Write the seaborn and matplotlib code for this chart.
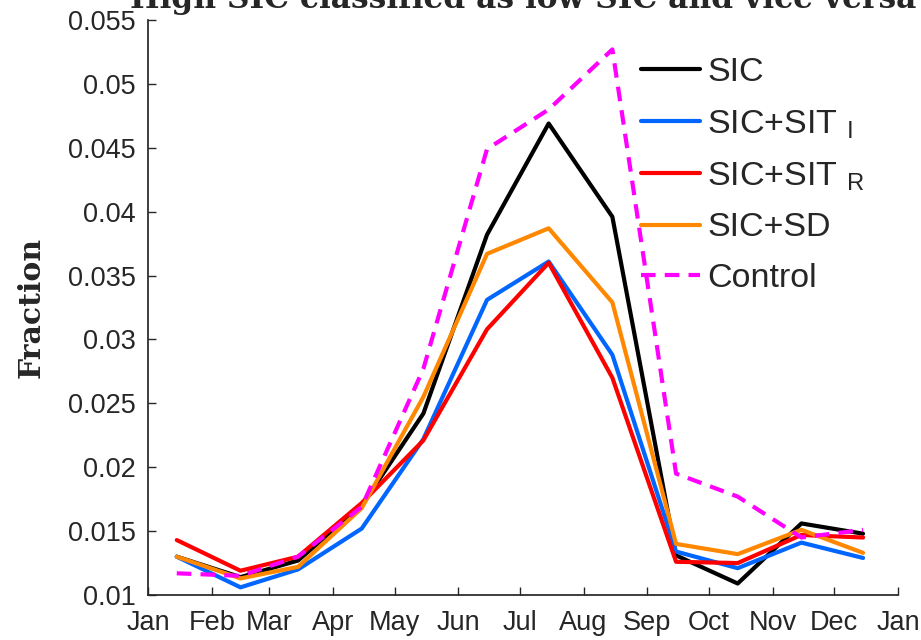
import pandas as pd
import matplotlib
matplotlib.use('Agg')
import matplotlib.pyplot as plt
import matplotlib.dates as mdates
from matplotlib.ticker import FuncFormatter
import seaborn as sns


# ==========================
# DADOS
# ==========================

meses = pd.date_range('2001-01-01', periods=12, freq='MS') + pd.Timedelta(days=14)

sic = [0.0130, 0.0114, 0.0127, 0.0170, 0.0242, 0.0382,
       0.0469, 0.0396, 0.0131, 0.0109, 0.0156, 0.0148]
sic_sit_i = [0.0130, 0.0106, 0.0120, 0.0152, 0.0222, 0.0331,
             0.0361, 0.0288, 0.0134, 0.0121, 0.0141, 0.0129]
sic_sit_r = [0.0143, 0.0119, 0.0130, 0.0172, 0.0221, 0.0308,
             0.0360, 0.0270, 0.0126, 0.0125, 0.0147, 0.0145]
sic_sd = [0.0130, 0.0113, 0.0122, 0.0168, 0.0255, 0.0367,
          0.0387, 0.0329, 0.0140, 0.0132, 0.0151, 0.0133]
control = [0.0117, 0.0115, 0.0130, 0.0169, 0.0277, 0.0449,
           0.0480, 0.0527, 0.0195, 0.0177, 0.0145, 0.0151]

nomes = ['SIC', 'SIC+SIT $_{\\rm I}$', 'SIC+SIT $_{\\rm R}$', 'SIC+SD', 'Control']
series = [sic, sic_sit_i, sic_sit_r, sic_sd, control]
cores = ['#000000', '#0066ff', '#ff0000', '#ff8800', '#ff00ff']

titulo = 'High SIC classified as low SIC and vice versa'

df = pd.concat(
    [pd.DataFrame({'data': meses, 'valor': v, 'serie': n})
     for n, v in zip(nomes, series)],
    ignore_index=True
)


# ==========================
# CONFIGURAÇÕES
# ==========================

sns.set_theme(style='ticks')
plt.rcParams['font.family'] = ['Liberation Sans', 'DejaVu Sans']
plt.rcParams['mathtext.fontset'] = 'custom'
plt.rcParams['mathtext.rm'] = 'Liberation Sans'
plt.rcParams['mathtext.it'] = 'Liberation Sans:italic'


# ==========================
# GRÁFICO
# ==========================

fig = plt.figure(figsize=(9.21, 6.4), dpi=100)
ax = fig.add_axes([0.1607, 0.0703, 0.8143, 0.8984])

sns.lineplot(
    data=df,
    x='data',
    y='valor',
    hue='serie',
    style='serie',
    palette=dict(zip(nomes, cores)),
    dashes={n: ('' if n != 'Control' else (3.5, 2.2)) for n in nomes},
    linewidth=3,
    ax=ax
)

ax.set_xlim(pd.Timestamp('2001-01-01'), pd.Timestamp('2002-01-01'))
ax.set_ylim(0.01, 0.055)
ax.set_yticks([0.01, 0.015, 0.02, 0.025, 0.03, 0.035, 0.04, 0.045, 0.05, 0.055])
ax.yaxis.set_major_formatter(FuncFormatter(lambda v, p: f'{v:g}'))
ax.xaxis.set_major_locator(mdates.MonthLocator())
ax.xaxis.set_major_formatter(mdates.DateFormatter('%b'))

ax.tick_params(direction='in', length=6, width=1, colors='#262626',
               labelsize=19.5)
ax.tick_params(axis='x', pad=11)
ax.tick_params(axis='y', pad=9)
for lado in ['top', 'right']:
    ax.spines[lado].set_visible(False)
for lado in ['left', 'bottom']:
    ax.spines[lado].set_color('#262626')

ax.set_xlabel('')
ax.set_ylabel('Fraction', family='DejaVu Serif', fontweight='bold',
              fontsize=21.5, color='#262626')
ax.yaxis.set_label_coords(-0.137, 0.5)

sns.move_legend(
    ax,
    'upper left',
    bbox_to_anchor=(0.657, 0.935),
    title=None,
    frameon=False,
    fontsize=24.5,
    handlelength=1.75,
    handletextpad=0.2,
    labelspacing=0.58,
    borderaxespad=0,
    borderpad=0
)

fig.text(0.568, 0.988, titulo, ha='center', va='baseline',
         family='DejaVu Serif', fontweight='bold', fontsize=22.5)

plt.savefig('out.png', dpi=100)
plt.close()
